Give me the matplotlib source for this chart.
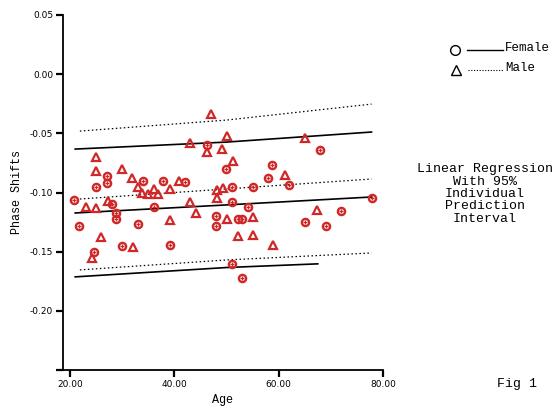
import matplotlib
matplotlib.use("Agg")
import matplotlib.pyplot as plt
from matplotlib.lines import Line2D

# ---- data ----
female_age = [20.8, 27.1, 27.1, 25.0, 28.0, 28.8, 28.8, 21.7, 33.0, 30.0, 24.6, 34.0,
              37.8, 36.1, 42.0, 49.9, 46.2, 58.7, 57.9, 51.0, 55.0, 51.0, 54.1, 47.9,
              47.9, 52.2, 52.9, 39.1, 51.0, 52.9, 67.9, 61.9, 77.8, 71.9, 65.0, 69.0]
female_shift = [-0.106, -0.086, -0.092, -0.095, -0.110, -0.117, -0.122, -0.128, -0.127,
                -0.145, -0.150, -0.090, -0.090, -0.112, -0.091, -0.080, -0.060, -0.077,
                -0.088, -0.095, -0.095, -0.108, -0.112, -0.120, -0.128, -0.122, -0.122,
                -0.144, -0.160, -0.172, -0.064, -0.094, -0.105, -0.116, -0.125, -0.128]

male_age = [25.0, 25.0, 30.0, 31.9, 33.0, 33.8, 34.9, 36.1, 36.8, 23.1, 25.0, 27.3,
            25.9, 32.1, 24.2, 47.0, 50.1, 43.0, 46.2, 49.1, 51.2, 40.9, 39.1, 48.1,
            49.3, 48.1, 43.0, 44.1, 39.1, 50.1, 55.0, 52.2, 55.0, 58.9, 65.0, 61.2, 67.3]
male_shift = [-0.070, -0.082, -0.080, -0.088, -0.095, -0.100, -0.101, -0.097, -0.101,
              -0.112, -0.113, -0.107, -0.138, -0.146, -0.155, -0.034, -0.052, -0.058,
              -0.066, -0.063, -0.073, -0.090, -0.097, -0.098, -0.096, -0.105, -0.108,
              -0.117, -0.123, -0.122, -0.121, -0.137, -0.136, -0.144, -0.054, -0.085,
              -0.115]

# regression fit and 95% individual prediction interval curves
fit_age = [21.0, 50.0, 77.8]
female_fit = [-0.1173, -0.1105, -0.1038]
female_upper = [-0.0633, -0.0574, -0.0489]
female_lower_age = [21.0, 50.0, 67.5]
female_lower = [-0.1713, -0.1634, -0.1603]
male_fit_age = [21.9, 50.0, 77.8]
male_fit = [-0.1055, -0.0970, -0.0886]
male_upper = [-0.0481, -0.0388, -0.0253]
male_lower = [-0.1654, -0.1570, -0.1511]

yticks = [0.05, 0.00, -0.05, -0.10, -0.15, -0.20]
ytick_labels = ["0.05", "0.00", "-0.05", "-0.10", "-0.15", "-0.20"]
xticks = [20, 40, 60, 80]
xtick_labels = ["20.00", "40.00", "60.00", "80.00"]

red = "#d02828"
mono = ["Liberation Mono", "DejaVu Sans Mono"]

fig = plt.figure(figsize=(5.52, 4.08), dpi=100)
ax = fig.add_axes([63/552, 1-370/408, 320/552, 355/408])

# lines
ax.plot(fit_age, female_fit, color="black", lw=1.2)
ax.plot(fit_age, female_upper, color="black", lw=1.2)
ax.plot(female_lower_age, female_lower, color="black", lw=1.2)
ax.plot(male_fit_age, male_fit, color="black", lw=0.9, ls=(0, (1.2, 2)))
ax.plot(male_fit_age, male_upper, color="black", lw=0.9, ls=(0, (1.2, 2)))
ax.plot(male_fit_age, male_lower, color="black", lw=0.9, ls=(0, (1.2, 2)))

# points
ax.plot(female_age, female_shift, ls="none", marker="o", ms=5.2, mfc="none",
        mec=red, mew=1.7)
ax.plot(female_age, female_shift, ls="none", marker="+", ms=2.2, mec=red, mew=0.9)
ax.plot(male_age, male_shift, ls="none", marker="^", ms=5.8, mfc="none",
        mec=red, mew=1.6)

ax.set_xlim(18.66, 80)
ax.set_ylim(-0.25, 0.05)
ax.set_yticks(yticks + [-0.25])
ax.set_yticklabels(ytick_labels + [""])
ax.set_xticks(xticks)
ax.set_xticklabels(xtick_labels)
for s in ["top", "right"]:
    ax.spines[s].set_visible(False)
ax.spines["left"].set_linewidth(1.3)
ax.spines["bottom"].set_linewidth(1.3)
ax.tick_params(axis="both", direction="out", length=5, width=1.6, labelsize=6.5,
               pad=2, colors="black")
for lab in ax.get_xticklabels() + ax.get_yticklabels():
    lab.set_family(["Liberation Sans Narrow", "DejaVu Sans"])

ax.set_xlabel("Age", fontsize=8.5, family=mono, labelpad=4)
ax.set_ylabel("Phase Shifts", fontsize=8.5, family=mono, labelpad=5)

# legend (drawn in figure coordinates)
fig.lines.append(Line2D([455/552], [1-50/408], marker="o", ms=7, mfc="none",
                        mec="black", mew=1.0, transform=fig.transFigure))
fig.lines.append(Line2D([467/552, 503/552], [1-50/408, 1-50/408], color="black",
                        lw=1.0, transform=fig.transFigure))
fig.text(505/552, 1-48/408, "Female", fontsize=9, family=mono,
         va="center", ha="left")
fig.lines.append(Line2D([456/552], [1-70/408], marker="^", ms=7, mfc="none",
                        mec="black", mew=1.0, transform=fig.transFigure))
fig.lines.append(Line2D([468/552, 503/552], [1-70/408, 1-70/408], color="black",
                        lw=0.8, ls=(0, (1, 1.5)), transform=fig.transFigure))
fig.text(505/552, 1-68/408, "Male", fontsize=9, family=mono,
         va="center", ha="left")

fig.text(485/552, 1-194/408,
         "Linear Regression\nWith 95%\nIndividual\nPrediction\nInterval",
         fontsize=9.5, family=mono, ha="center", va="center", linespacing=1.05)
fig.text(517/552, 1-384/408, "Fig 1", fontsize=9.5, family=mono, ha="center",
         va="center")

fig.savefig("out.png", dpi=100)
